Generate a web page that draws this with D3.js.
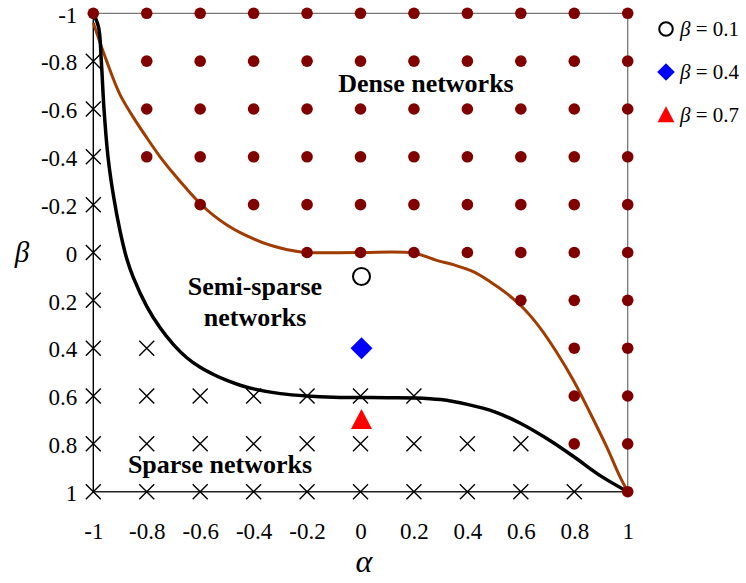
<!DOCTYPE html>
<html>
<head>
<meta charset="utf-8">
<script src="https://cdn.jsdelivr.net/npm/d3@7"></script>
<style>
  html, body { margin: 0; padding: 0; background: #fff; }
  svg { display: block; }
  text { font-family: "Liberation Serif", "Times New Roman", serif; fill: #000; }
</style>
</head>
<body>
<svg id="chart" width="746" height="583"></svg>
<script>
// Axis ticks
const alphaTicks = [-1, -0.8, -0.6, -0.4, -0.2, 0, 0.2, 0.4, 0.6, 0.8, 1];
const betaTicks = [-1, -0.8, -0.6, -0.4, -0.2, 0, 0.2, 0.4, 0.6, 0.8, 1];

// Grid points classified as dense networks, per beta row
const denseRows = [
  { beta: -1,   alphas: [-1, -0.8, -0.6, -0.4, -0.2, 0, 0.2, 0.4, 0.6, 0.8, 1] },
  { beta: -0.8, alphas: [-0.8, -0.6, -0.4, -0.2, 0, 0.2, 0.4, 0.6, 0.8, 1] },
  { beta: -0.6, alphas: [-0.8, -0.6, -0.4, -0.2, 0, 0.2, 0.4, 0.6, 0.8, 1] },
  { beta: -0.4, alphas: [-0.8, -0.6, -0.4, -0.2, 0, 0.2, 0.4, 0.6, 0.8, 1] },
  { beta: -0.2, alphas: [-0.6, -0.4, -0.2, 0, 0.2, 0.4, 0.6, 0.8, 1] },
  { beta: 0,    alphas: [-0.2, 0, 0.2, 0.4, 0.6, 0.8, 1] },
  { beta: 0.2,  alphas: [0.6, 0.8, 1] },
  { beta: 0.4,  alphas: [0.8, 1] },
  { beta: 0.6,  alphas: [0.8, 1] },
  { beta: 0.8,  alphas: [0.8, 1] },
  { beta: 1,    alphas: [1] }
];

// Grid points classified as sparse networks, per beta row
const sparseRows = [
  { beta: -0.8, alphas: [-1] },
  { beta: -0.6, alphas: [-1] },
  { beta: -0.4, alphas: [-1] },
  { beta: -0.2, alphas: [-1] },
  { beta: 0,    alphas: [-1] },
  { beta: 0.2,  alphas: [-1] },
  { beta: 0.4,  alphas: [-1, -0.8] },
  { beta: 0.6,  alphas: [-1, -0.8, -0.6, -0.4, -0.2, 0, 0.2] },
  { beta: 0.8,  alphas: [-1, -0.8, -0.6, -0.4, -0.2, 0, 0.2, 0.4, 0.6] },
  { beta: 1,    alphas: [-1, -0.8, -0.6, -0.4, -0.2, 0, 0.2, 0.4, 0.6, 0.8] }
];

// Upper boundary (dense / semi-sparse), [alpha, beta]
const denseBoundary = [
  [-1, -0.96], [-0.95, -0.8], [-0.9, -0.66], [-0.85, -0.565], [-0.8, -0.48],
  [-0.75, -0.4], [-0.7, -0.33], [-0.65, -0.265], [-0.6, -0.205], [-0.55, -0.155],
  [-0.5, -0.115], [-0.45, -0.083], [-0.4, -0.057], [-0.35, -0.035], [-0.3, -0.019],
  [-0.25, -0.007], [-0.2, 0], [0, 0], [0.2, 0.003], [0.285, 0.033], [0.35, 0.052],
  [0.422, 0.08], [0.485, 0.122], [0.547, 0.171], [0.609, 0.232], [0.672, 0.315],
  [0.734, 0.417], [0.796, 0.533], [0.859, 0.67], [0.921, 0.812], [0.97, 0.935], [1, 1]
];

// Lower boundary (semi-sparse / sparse), [alpha, beta]
const sparseBoundary = [
  [-1, -1], [-0.98, -0.94], [-0.97, -0.8], [-0.96, -0.6], [-0.945, -0.4],
  [-0.925, -0.24], [-0.9, -0.09], [-0.875, 0.025], [-0.85, 0.105], [-0.8, 0.225],
  [-0.75, 0.315], [-0.7, 0.385], [-0.65, 0.44], [-0.6, 0.48], [-0.55, 0.51],
  [-0.5, 0.535], [-0.45, 0.555], [-0.4, 0.57], [-0.3, 0.59], [-0.2, 0.6],
  [-0.1, 0.605], [0.1, 0.607], [0.2, 0.608], [0.3, 0.615], [0.4, 0.635],
  [0.5, 0.665], [0.6, 0.715], [0.7, 0.78], [0.8, 0.855], [0.9, 0.935], [1, 1]
];

// Highlighted cases at alpha = 0
const highlights = [
  { alpha: 0, beta: 0.1, shape: "circle",   label: "0.1" },
  { alpha: 0, beta: 0.4, shape: "diamond",  label: "0.4" },
  { alpha: 0, beta: 0.7, shape: "triangle", label: "0.7" }
];

const svg = d3.select("#chart");
const x = d3.scaleLinear().domain([-1, 1]).range([93.3, 627.7]);
const y = d3.scaleLinear().domain([-1, 1]).range([13.3, 491.7]);

// Frame
svg.append("line").attr("x1", x(-1)).attr("x2", x(1)).attr("y1", y(-1)).attr("y2", y(-1))
  .attr("stroke", "#777").attr("stroke-width", 1.3);
svg.append("line").attr("x1", x(1)).attr("x2", x(1)).attr("y1", y(-1)).attr("y2", y(1))
  .attr("stroke", "#777").attr("stroke-width", 1.3);
svg.append("line").attr("x1", x(-1)).attr("x2", x(-1)).attr("y1", y(-1)).attr("y2", y(1))
  .attr("stroke", "#000").attr("stroke-width", 1.4);
svg.append("line").attr("x1", x(-1)).attr("x2", x(1)).attr("y1", y(1)).attr("y2", y(1))
  .attr("stroke", "#222").attr("stroke-width", 1.4);

const fmt = d => String(d);

// Axes (labels only, no tick marks)
svg.append("g").attr("transform", `translate(0,${y(1)})`)
  .call(d3.axisBottom(x).tickValues(alphaTicks).tickSize(0).tickPadding(31).tickFormat(fmt))
  .call(g => g.select(".domain").remove())
  .selectAll("text").attr("font-size", 23);

svg.append("g").attr("transform", `translate(${x(-1)},0)`)
  .call(d3.axisLeft(y).tickValues(betaTicks).tickSize(0).tickPadding(16).tickFormat(fmt))
  .call(g => g.select(".domain").remove())
  .selectAll("text").attr("font-size", 23).attr("dy", "0.38em");

// Axis titles
svg.append("text").attr("x", 364).attr("y", 572).attr("text-anchor", "middle")
  .attr("font-size", 32).attr("font-style", "italic").text("α");
svg.append("text").attr("x", 22).attr("y", 262).attr("text-anchor", "middle")
  .attr("font-size", 29).attr("font-style", "italic").text("β");

// Boundary curves
const line = d3.line().x(d => x(d[0])).y(d => y(d[1])).curve(d3.curveCatmullRom.alpha(0.5));
svg.append("path").datum(denseBoundary).attr("d", line)
  .attr("fill", "none").attr("stroke", "#a03c00").attr("stroke-width", 3);
svg.append("path").datum(sparseBoundary).attr("d", line)
  .attr("fill", "none").attr("stroke", "#000").attr("stroke-width", 3.5);

// Dense dots
const densePts = denseRows.flatMap(r => r.alphas.map(a => [a, r.beta]));
svg.append("g").selectAll("circle").data(densePts).join("circle")
  .attr("cx", d => x(d[0])).attr("cy", d => y(d[1])).attr("r", 5.8)
  .attr("fill", "#800000");

// Sparse crosses
const sparsePts = sparseRows.flatMap(r => r.alphas.map(a => [a, r.beta]));
const h = 7.5;
svg.append("g").selectAll("path").data(sparsePts).join("path")
  .attr("d", d => {
    const cx = x(d[0]), cy = y(d[1]);
    return `M${cx - h},${cy - h}L${cx + h},${cy + h}M${cx - h},${cy + h}L${cx + h},${cy - h}`;
  })
  .attr("stroke", "#000").attr("stroke-width", 1.4).attr("fill", "none");

// Marker shapes
function marker(sel, shape, k) {
  if (shape === "circle") {
    sel.append("circle").attr("r", 8.5 * k).attr("fill", "#fff").attr("stroke", "#000").attr("stroke-width", 2);
  } else if (shape === "diamond") {
    const s = 11 * k;
    sel.append("path").attr("d", `M0,${-s}L${s},0L0,${s}L${-s},0Z`).attr("fill", "#0000ff");
  } else {
    const w = 10.5 * k, t = 11 * k, b = 9 * k;
    sel.append("path").attr("d", `M0,${-t}L${w},${b}L${-w},${b}Z`).attr("fill", "#ff0000");
  }
}

highlights.forEach(d => {
  const g = svg.append("g").attr("transform", `translate(${x(d.alpha) + 1},${y(d.beta)})`);
  marker(g, d.shape, 1);
});

// Legend
const legendY = [29, 72, 115];
highlights.forEach((d, i) => {
  const g = svg.append("g").attr("transform", `translate(666,${legendY[i]})`);
  marker(g, d.shape, 0.8);
  const t = g.append("text").attr("x", 14).attr("y", 7).attr("font-size", 21);
  t.append("tspan").attr("font-style", "italic").text("β");
  t.append("tspan").text(" = " + d.label);
});

// Region labels
const regionLabels = [
  { text: "Dense networks", x: 426, y: 92 },
  { text: "Semi-sparse", x: 255, y: 295 },
  { text: "networks", x: 255, y: 326 },
  { text: "Sparse networks", x: 220, y: 473 }
];
svg.append("g").selectAll("text").data(regionLabels).join("text")
  .attr("x", d => d.x).attr("y", d => d.y).attr("text-anchor", "middle")
  .attr("font-size", 26).attr("font-weight", "bold").text(d => d.text);
</script>
</body>
</html>
